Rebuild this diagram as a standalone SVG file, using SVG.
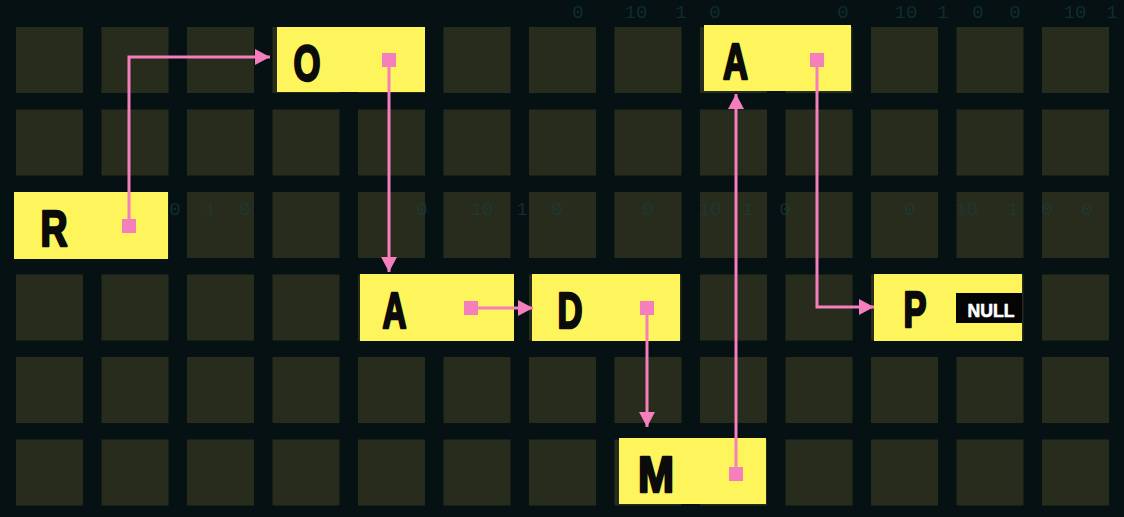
<svg xmlns="http://www.w3.org/2000/svg" width="1124" height="517" viewBox="0 0 1124 517">
<defs>
<style>
.cell{fill:#282c1d}
.node{fill:#fdf55b}
.lbl{font-family:"Liberation Sans","DejaVu Sans",Arial,sans-serif;font-weight:bold;font-size:50px;fill:#0b0b0b;stroke:#0b0b0b;stroke-width:2.5;stroke-linejoin:round;text-anchor:middle}
.null{font-family:"Liberation Sans","DejaVu Sans",Arial,sans-serif;font-weight:bold;font-size:19px;fill:#ffffff;stroke:#ffffff;stroke-width:0.6;text-anchor:middle}
.bits{font-family:"Liberation Mono","DejaVu Sans Mono",monospace;font-size:19px;fill:#18403f;text-anchor:middle;opacity:0.6}
.link{fill:none;stroke:#f57ebd;stroke-width:3;marker-start:url(#sq);marker-end:url(#arr)}
</style>
<marker id="arr" markerUnits="userSpaceOnUse" markerWidth="16" markerHeight="16" refX="15" refY="8" orient="auto">
<path d="M0,0 L15,8 L0,16 z" fill="#f57ebd"/>
</marker>
<marker id="sq" markerUnits="userSpaceOnUse" markerWidth="14" markerHeight="14" refX="7" refY="7" orient="auto">
<rect x="0" y="0" width="14" height="14" fill="#f57ebd"/>
</marker>
<g id="row">
<rect class="cell" x="16" y="0" width="67" height="66"/>
<rect class="cell" x="101.5" y="0" width="67" height="66"/>
<rect class="cell" x="187" y="0" width="67" height="66"/>
<rect class="cell" x="272.5" y="0" width="67" height="66"/>
<rect class="cell" x="358" y="0" width="67" height="66"/>
<rect class="cell" x="443.5" y="0" width="67" height="66"/>
<rect class="cell" x="529" y="0" width="67" height="66"/>
<rect class="cell" x="614.5" y="0" width="67" height="66"/>
<rect class="cell" x="700" y="0" width="67" height="66"/>
<rect class="cell" x="785.5" y="0" width="67" height="66"/>
<rect class="cell" x="871" y="0" width="67" height="66"/>
<rect class="cell" x="956.5" y="0" width="67" height="66"/>
<rect class="cell" x="1042" y="0" width="67" height="66"/>
</g>
</defs>
<rect x="0" y="0" width="1124" height="517" fill="#051113"/>
<g id="grid">
<use href="#row" y="27"/>
<use href="#row" y="109.5"/>
<use href="#row" y="192"/>
<use href="#row" y="274.5"/>
<use href="#row" y="357"/>
<use href="#row" y="439.5"/>
</g>
<g id="bits">
<text class="bits" x="578" y="18">0</text><text class="bits" x="636" y="18">10</text><text class="bits" x="681" y="18">1</text><text class="bits" x="715" y="18">0</text>
<text class="bits" x="843" y="18">0</text><text class="bits" x="906" y="18">10</text><text class="bits" x="943" y="18">1</text><text class="bits" x="978" y="18">0</text><text class="bits" x="1015" y="18">0</text><text class="bits" x="1075" y="18">10</text><text class="bits" x="1112" y="18">1</text>
<text class="bits" x="175" y="215">0</text><text class="bits" x="210" y="215">1</text><text class="bits" x="245" y="215">0</text>
<text class="bits" x="422" y="215">0</text><text class="bits" x="482" y="215">10</text><text class="bits" x="522" y="215">1</text><text class="bits" x="557" y="215">0</text>
<text class="bits" x="648" y="215">0</text><text class="bits" x="710" y="215">10</text><text class="bits" x="748" y="215">1</text><text class="bits" x="785" y="215">0</text>
<text class="bits" x="910" y="215">0</text><text class="bits" x="967" y="215">10</text><text class="bits" x="1013" y="215">1</text><text class="bits" x="1047" y="215">0</text><text class="bits" x="1087" y="215">0</text>
</g>
<g id="node-R"><rect class="node" x="14" y="192" width="154" height="67"/><text class="lbl" x="54" y="246" textLength="27" lengthAdjust="spacingAndGlyphs">R</text></g>
<g id="node-O"><rect class="node" x="277" y="27" width="148" height="65"/><text class="lbl" x="307" y="81" textLength="27" lengthAdjust="spacingAndGlyphs">O</text></g>
<g id="node-A1"><rect class="node" x="360" y="274" width="154" height="67"/><text class="lbl" x="394.5" y="328" textLength="24" lengthAdjust="spacingAndGlyphs">A</text></g>
<g id="node-D"><rect class="node" x="532" y="274" width="148" height="67"/><text class="lbl" x="570" y="328" textLength="25" lengthAdjust="spacingAndGlyphs">D</text></g>
<g id="node-M"><rect class="node" x="619" y="438" width="147" height="66"/><text class="lbl" x="656" y="492" textLength="36" lengthAdjust="spacingAndGlyphs">M</text></g>
<g id="node-A2"><rect class="node" x="704" y="25" width="147" height="66"/><text class="lbl" x="735.5" y="79" textLength="25" lengthAdjust="spacingAndGlyphs">A</text></g>
<g id="node-P"><rect class="node" x="874" y="274" width="148" height="67"/><text class="lbl" x="915" y="327" textLength="23" lengthAdjust="spacingAndGlyphs">P</text><rect x="956" y="293" width="66" height="30" fill="#050505"/><text class="null" x="991" y="317" textLength="47" lengthAdjust="spacingAndGlyphs">NULL</text></g>
<g id="connectors">
<path class="link" d="M129,226 V57 H270"/>
<path class="link" d="M389,60 V272"/>
<path class="link" d="M471,308 H533"/>
<path class="link" d="M647,308 V427"/>
<path class="link" d="M736,474 V94"/>
<path class="link" d="M817,60 V307 H874"/>
</g>
</svg>
